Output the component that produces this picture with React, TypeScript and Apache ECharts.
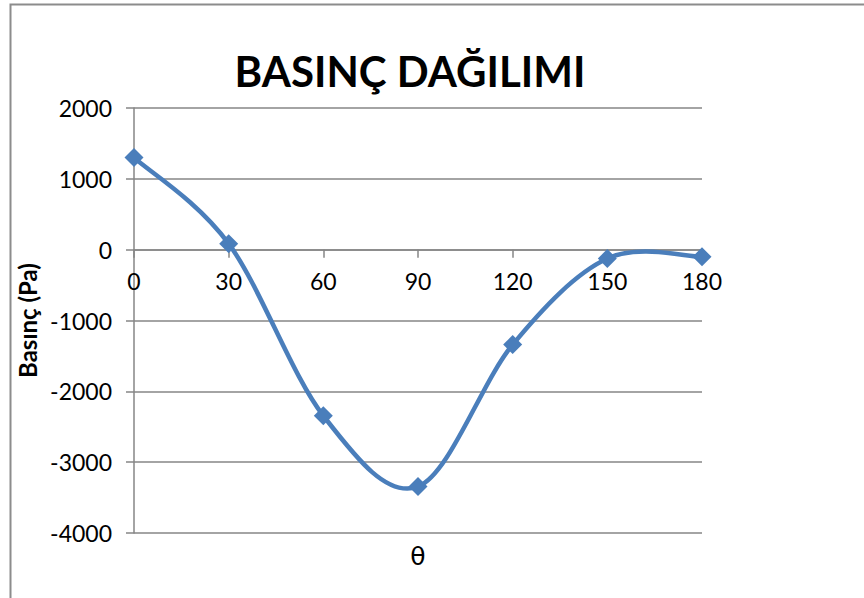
import React, { useEffect, useRef } from "react";
import * as echarts from "echarts";

const angles = [0, 30, 60, 90, 120, 150, 180];
const pressures = [1300, 85, -2345, -3345, -1340, -125, -100];
const titleText = "BASINÇ DAĞILIMI";
const yAxisName = "Basınç (Pa)";
const xAxisName = "θ";

export default function App() {
  const ref = useRef<HTMLDivElement>(null);
  useEffect(() => {
    if (!ref.current) return;
    const chart = echarts.init(ref.current, undefined, { renderer: "svg" });
    const font = "Lato, 'Open Sans', sans-serif";
    const points = angles.map((a, i) => [a, pressures[i]]);
    const lineColor = "#4A7EBB";

    // Smooth curve (Catmull-Rom → cubic Bézier), drawn through the axis scales.
    const renderCurve = (params: any, api: any) => {
      if (params.dataIndex !== 0) return null;
      const px = points.map((p) => api.coord(p) as number[]);
      const n = px.length;
      let d = `M${px[0][0]},${px[0][1]}`;
      for (let i = 0; i < n - 1; i++) {
        const p0 = px[Math.max(i - 1, 0)];
        const p1 = px[i];
        const p2 = px[i + 1];
        const p3 = px[Math.min(i + 2, n - 1)];
        const t = 1 / 6;
        const c1 = [p1[0] + (p2[0] - p0[0]) * t, p1[1] + (p2[1] - p0[1]) * t];
        const c2 = [p2[0] - (p3[0] - p1[0]) * t, p2[1] - (p3[1] - p1[1]) * t];
        d += ` C${c1[0]},${c1[1]} ${c2[0]},${c2[1]} ${p2[0]},${p2[1]}`;
      }
      return {
        type: "path",
        shape: { pathData: d },
        style: { fill: "none", stroke: lineColor, lineWidth: 4.5, lineJoin: "round", lineCap: "round" },
      };
    };

    chart.setOption({
      animation: false,
      backgroundColor: "#ffffff",
      title: {
        text: titleText,
        left: 405,
        top: 45,
        textAlign: "center",
        textStyle: {
          fontFamily: font,
          fontSize: 42,
          fontWeight: "bold",
          color: "#000",
        },
      },
      graphic: [
        {
          type: "rect",
          shape: { x: 10.5, y: 4.5, width: 900, height: 700 },
          style: { fill: "none", stroke: "#8c8c8c", lineWidth: 2 },
          silent: true,
        },
      ],
      grid: { left: 134, right: 162, top: 108, bottom: 65, outerBoundsMode: "none", containLabel: false },
      xAxis: {
        type: "value",
        min: 0,
        max: 180,
        interval: 30,
        name: xAxisName,
        nameLocation: "middle",
        nameGap: 294,
        nameTextStyle: { fontSize: 25, color: "#000", fontFamily: "'DejaVu Sans', sans-serif" },
        axisLine: { onZero: false, lineStyle: { color: "#868686", width: 1.5 } },
        axisTick: { show: true, length: 8, inside: false, lineStyle: { color: "#868686", width: 1.5 } },
        axisLabel: { fontSize: 23, color: "#000", margin: 20, fontFamily: font, formatter: (v: number) => String(v) },
        splitLine: { show: false },
      },
      yAxis: {
        type: "value",
        min: -4000,
        max: 2000,
        interval: 1000,
        name: yAxisName,
        nameLocation: "middle",
        nameGap: 87,
        nameRotate: 90,
        nameTextStyle: { fontSize: 24, fontWeight: "bold", color: "#000", fontFamily: font },
        axisLine: { show: true, onZero: false, lineStyle: { color: "#868686", width: 1.5 } },
        axisTick: { show: true, length: 8, lineStyle: { color: "#868686", width: 1.5 } },
        axisLabel: { fontSize: 23, color: "#000", margin: 22, fontFamily: font, formatter: (v: number) => String(v) },
        splitLine: { show: true, lineStyle: { color: "#868686", width: 1.5 } },
      },
      series: [
        {
          type: "custom",
          renderItem: renderCurve,
          data: points,
          clip: false,
          z: 2,
        },
        {
          type: "scatter",
          data: points,
          symbol: "diamond",
          symbolSize: 19,
          itemStyle: { color: lineColor, opacity: 1 },
          z: 3,
        },
      ],
    });
    // Place the x axis where y = 0, as the reference does (axis crosses at zero).
    const yZero = chart.convertToPixel({ yAxisIndex: 0 }, 0) as number;
    const yMin = chart.convertToPixel({ yAxisIndex: 0 }, -4000) as number;
    if (typeof yZero === "number" && typeof yMin === "number") {
      chart.setOption({ xAxis: { offset: yZero - yMin } });
    }
    return () => chart.dispose();
  }, []);
  return (
    <div
      ref={ref}
      style={{ position: "absolute", left: 0, top: 0, width: 864, height: 598 }}
    />
  );
}
